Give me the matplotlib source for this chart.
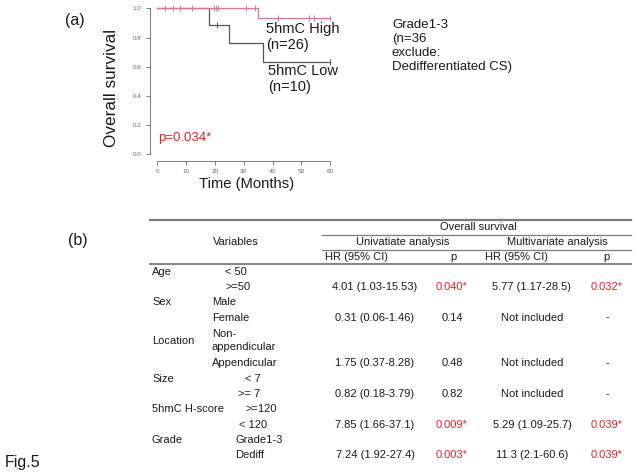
import matplotlib.pyplot as plt

plt.rcParams["font.family"] = ["Liberation Sans", "DejaVu Sans"]

# Kaplan-Meier data
high_times = [0, 34.9, 60]
high_surv = [1.0, 0.935, 0.935]
high_censor_t = [2.7, 5.6, 7.9, 11.9, 19.7, 20.4, 21.0, 30.8, 33.9, 42.0, 52.7, 54.2, 60]
high_censor_s = [1.0, 1.0, 1.0, 1.0, 1.0, 1.0, 1.0, 1.0, 1.0, 0.935, 0.935, 0.935, 0.935]

low_times = [0, 17.9, 25.0, 36.8, 60]
low_surv = [1.0, 0.889, 0.762, 0.635, 0.635]
low_censor_t = [20.6, 60]
low_censor_s = [0.889, 0.635]

x_ticks = [0, 10, 20, 30, 40, 50, 60]
y_ticks = [0.0, 0.2, 0.4, 0.6, 0.8, 1.0]

# table data
variables = ["Age", "Sex", "Location", "Size", "5hmC H-score", "Grade"]
levels = ["< 50", ">=50", "Male", "Female", "Non-\nappendicular", "Appendicular",
          "< 7", ">= 7", ">=120", "< 120", "Grade1-3", "Dediff"]
uni_hr = ["", "4.01 (1.03-15.53)", "", "0.31 (0.06-1.46)", "", "1.75 (0.37-8.28)",
          "", "0.82 (0.18-3.79)", "", "7.85 (1.66-37.1)", "", "7.24 (1.92-27.4)"]
uni_p = ["", "0.040*", "", "0.14", "", "0.48", "", "0.82", "", "0.009*", "", "0.003*"]
multi_hr = ["", "5.77 (1.17-28.5)", "", "Not included", "", "Not included",
            "", "Not included", "", "5.29 (1.09-25.7)", "", "11.3 (2.1-60.6)"]
multi_p = ["", "0.032*", "", "-", "", "-", "", "-", "", "0.039*", "", "0.039*"]

W, H = 637, 476
PINK = "#d9788a"
GRAY = "#555555"
TXT = "#1a1a1a"
RED = "#e8202a"
RULE = "#7a7a7a"

fig = plt.figure(figsize=(W / 100, H / 100), dpi=100)


def px_axes(x0, y0, x1, y1):
    return fig.add_axes([x0 / W, 1 - y1 / H, (x1 - x0) / W, (y1 - y0) / H])


# ---- (a) KM plot
ax = px_axes(150, 5.4, 336, 161)
ax.set_xlim(-2.5, 62)
ax.set_ylim(-0.046, 1.02)
ax.step(low_times, low_surv, where="post", color=GRAY, lw=0.9)
ax.plot(low_censor_t, low_censor_s, "|", color=GRAY, ms=5, mew=0.7)
ax.step(high_times, high_surv, where="post", color=PINK, lw=0.9)
ax.plot(high_censor_t, high_censor_s, "|", color=PINK, ms=5, mew=0.7)

for side in ["top", "right"]:
    ax.spines[side].set_visible(False)
ax.spines["left"].set_bounds(0, 1)
ax.spines["bottom"].set_bounds(0, 60)
for side in ["left", "bottom"]:
    ax.spines[side].set_color("#666666")
    ax.spines[side].set_linewidth(0.6)
ax.set_xticks(x_ticks)
ax.set_yticks(y_ticks)
ax.set_yticklabels([f"{v:.1f}" for v in y_ticks])
ax.tick_params(labelsize=4.5, labelcolor="#666666", color="#666666",
               length=3, width=0.6, pad=3)
ax.patch.set_visible(False)

# overlay in pixel coords
ov = fig.add_axes([0, 0, 1, 1])
ov.set_xlim(0, W)
ov.set_ylim(H, 0)
ov.axis("off")
ov.patch.set_visible(False)

ov.text(65, 20, "(a)", fontsize=11.5, color=TXT, va="center")
ov.text(111, 88, "Overall survival", fontsize=12.3, color=TXT,
        rotation=90, ha="center", va="center")
ov.text(247, 184, "Time (Months)", fontsize=10.6, color=TXT,
        ha="center", va="center")
ov.text(158, 138, "p=0.034*", fontsize=9.5, color=RED, va="center")
ov.text(266, 37, "5hmC High\n(n=26)", fontsize=10.5, color=TXT, va="center",
        linespacing=1.15)
ov.text(268, 79, "5hmC Low\n(n=10)", fontsize=10.5, color=TXT, va="center",
        linespacing=1.15)
ov.text(392, 46, "Grade1-3\n(n=36\nexclude:\nDedifferentiated CS)", fontsize=9.5,
        color=TXT, va="center", linespacing=1.2)

# ---- (b) table
ov.text(68, 241, "(b)", fontsize=11.5, color=TXT, va="center")
ov.text(5, 463, "Fig.5", fontsize=11.5, color=TXT, va="center")

fs = 8
ov.plot([150, 631], [220, 220], color=RULE, lw=1.6)
ov.plot([322, 631], [234.5, 234.5], color=RULE, lw=0.9)
ov.plot([322, 631], [249.5, 249.5], color=RULE, lw=0.9)
ov.plot([150, 631], [263.5, 263.5], color=RULE, lw=1.3)

ov.text(478, 227, "Overall survival", fontsize=fs, color=TXT, ha="center", va="center")
ov.text(403, 242, "Univatiate analysis", fontsize=fs, color=TXT, ha="center", va="center")
ov.text(557, 242, "Multivariate analysis", fontsize=fs, color=TXT, ha="center", va="center")
ov.text(236, 242, "Variables", fontsize=fs, color=TXT, ha="center", va="center")
ov.text(325, 256.5, "HR (95% CI)", fontsize=fs, color=TXT, va="center")
ov.text(453, 256.5, "p", fontsize=fs, color=TXT, ha="center", va="center")
ov.text(485, 256.5, "HR (95% CI)", fontsize=fs, color=TXT, va="center")
ov.text(606, 256.5, "p", fontsize=fs, color=TXT, ha="center", va="center")

row_h = 15.3
row_units = [1, 1, 1, 1, 2, 1, 1, 1, 1, 1, 1, 1]
level_x = [225, 225, 212, 212, 212, 212, 245, 238, 245, 239, 235, 235]
y = 263.5
centers = []
for u in row_units:
    centers.append(y + u * row_h / 2 + 0.5)
    y += u * row_h

for i, c in enumerate(centers):
    if i % 2 == 0:
        ov.text(152, c, variables[i // 2], fontsize=fs, color=TXT, va="center")
    ov.text(level_x[i], c, levels[i], fontsize=fs, color=TXT, va="center",
            linespacing=1.4)
    ov.text(375, c, uni_hr[i], fontsize=fs, color=TXT, ha="center", va="center")
    ov.text(452, c, uni_p[i], fontsize=fs, ha="center", va="center",
            color=RED if "*" in uni_p[i] else TXT)
    ov.text(532, c, multi_hr[i], fontsize=fs, color=TXT, ha="center", va="center")
    ov.text(607, c, multi_p[i], fontsize=fs, ha="center", va="center",
            color=RED if "*" in multi_p[i] else TXT)

fig.savefig("out.png", dpi=100)
